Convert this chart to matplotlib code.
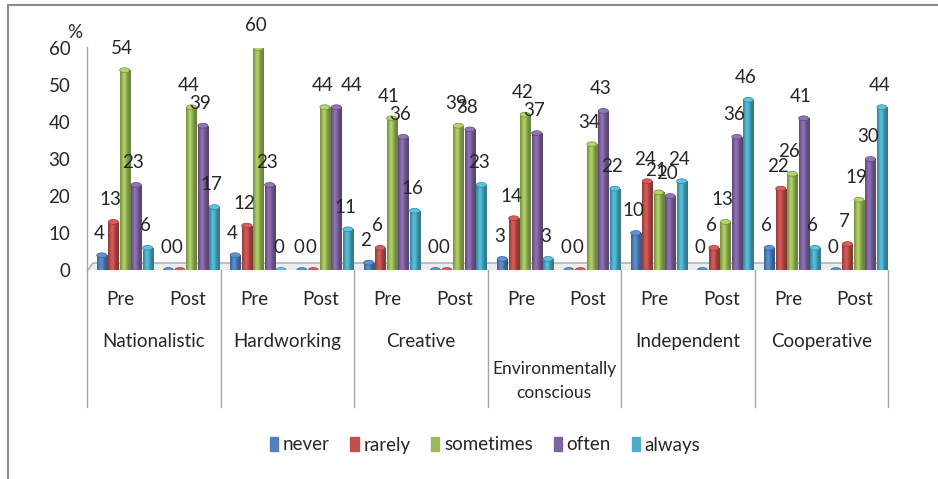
import numpy as np
import matplotlib
matplotlib.use("Agg")
import matplotlib.pyplot as plt
from matplotlib.patches import Ellipse, Polygon, Patch
from matplotlib.lines import Line2D
from matplotlib.colors import to_rgb

plt.rcParams['font.family'] = ['Lato', 'DejaVu Sans']

groups = ['Nationalistic', 'Hardworking', 'Creative',
          'Environmentally\nconscious', 'Independent', 'Cooperative']
phases = ['Pre', 'Post']
series = ['never', 'rarely', 'sometimes', 'often', 'always']

# one value per group/phase: Pre, Post, Pre, Post ...
never = [4, 0, 4, 0, 2, 0, 3, 0, 10, 0, 6, 0]
rarely = [13, 0, 12, 0, 6, 0, 14, 0, 24, 6, 22, 7]
sometimes = [54, 44, 60, 44, 41, 39, 42, 34, 21, 13, 26, 19]
often = [23, 39, 23, 44, 36, 38, 37, 43, 20, 36, 41, 30]
always = [6, 17, 0, 11, 16, 23, 3, 22, 24, 46, 6, 44]

values = [never, rarely, sometimes, often, always]
colors = ['#4F81BD', '#C0504D', '#9BBB59', '#8064A2', '#4BACC6']
text_col = '#262626'
fs = 13.5

# label moved sideways in the original (series index, bar index) -> dx
label_nudge = {(3, 3): 0.27}

W, H = 938, 479
fig = plt.figure(figsize=(W / 100, H / 100), dpi=100)
ax = fig.add_axes([87 / W, 1 - 270 / H, (888 - 87) / W, 222 / H])

n = len(never)
pos = np.arange(n)
bw = 0.15
step = 0.172


def shade(rgb, f):
    return tuple(min(1.0, c * f) for c in rgb)


# floor of the 3d box
floor = Polygon([(-0.5, -0.3), (11.45, -0.3), (11.6, 1.9), (-0.41, 1.9)],
                closed=True, facecolor='#ececec', edgecolor='#a6a6a6',
                lw=1.0, zorder=1)
ax.add_patch(floor)

t = np.linspace(0, 1, 40)
fac = 0.7 + 0.42 * np.exp(-((t - 0.38) / 0.28) ** 2)

for k, (vals, col) in enumerate(zip(values, colors)):
    rgb = to_rgb(col)
    grad = np.array([[shade(rgb, f) for f in fac]])
    xs = pos - 0.28 + k * step
    bars = ax.bar(xs, vals, width=bw, color=col, edgecolor=shade(rgb, 0.7),
                  lw=0.4, zorder=3)
    for i, (x, v, b) in enumerate(zip(xs, vals, bars)):
        if v > 0:
            im = ax.imshow(grad, extent=(x - bw / 2, x + bw / 2, 0, v),
                           aspect='auto', zorder=3.5, interpolation='bilinear')
            im.set_clip_path(b)
        cap = Ellipse((x, v), bw, 1.3, facecolor=shade(rgb, 1.15),
                      edgecolor=shade(rgb, 0.75), lw=0.5, zorder=4)
        ax.add_patch(cap)
        dx = label_nudge.get((k, i), 0.0)
        ax.text(x - 0.04 + dx, v + 6.0, str(v), ha='center', va='center',
                fontsize=fs, color=text_col, zorder=6)

ax.set_xlim(-0.5, 11.5)
ax.set_ylim(0, 60)
ax.set_yticks(range(0, 61, 10))
ax.set_xticks([])
ax.tick_params(axis='y', length=0, pad=12, labelsize=fs, labelcolor=text_col)
for s in ax.spines.values():
    s.set_visible(False)

# back wall axis line
ax.plot([-0.5, -0.5], [-0.3, 60.3], color='#a6a6a6', lw=1.0, clip_on=False,
        zorder=2)
ax.text(-0.68, 64.3, '%', ha='center', va='center', fontsize=fs,
        color=text_col, clip_on=False)

# category axis labels
tr = ax.get_xaxis_transform()
for i in range(n):
    ax.text(pos[i], -0.131, phases[i % 2], transform=tr, ha='center',
            va='center', fontsize=fs, color=text_col)
for g, name in enumerate(groups):
    xc = 2 * g + 0.5
    if '\n' in name:
        ax.text(xc, -0.5, name, transform=tr, ha='center', va='center',
                fontsize=fs - 1, color=text_col, linespacing=1.6)
    else:
        ax.text(xc, -0.32, name, transform=tr, ha='center', va='center',
                fontsize=fs, color=text_col)
for b in np.arange(-0.5, n, 2):
    ax.plot([b, b], [0, -0.617], transform=tr, color='#a6a6a6', lw=1.0,
            clip_on=False)

handles = [Patch(facecolor=c, edgecolor=c) for c in colors]
fig.legend(handles, series, loc='center', bbox_to_anchor=(485 / W, 1 - 445 / H),
           ncol=5, frameon=False, fontsize=fs, handlelength=0.45,
           handleheight=0.8, handletextpad=0.25, columnspacing=1.1,
           labelcolor=text_col)

# outer chart border
fig.add_artist(Line2D([8 / W, 1], [1 - 5 / H, 1 - 5 / H], color='#8c8c8c',
                      lw=1.5))
fig.add_artist(Line2D([8 / W, 8 / W], [0, 1 - 5 / H], color='#8c8c8c',
                      lw=1.5))

fig.savefig('out.png', dpi=100)
